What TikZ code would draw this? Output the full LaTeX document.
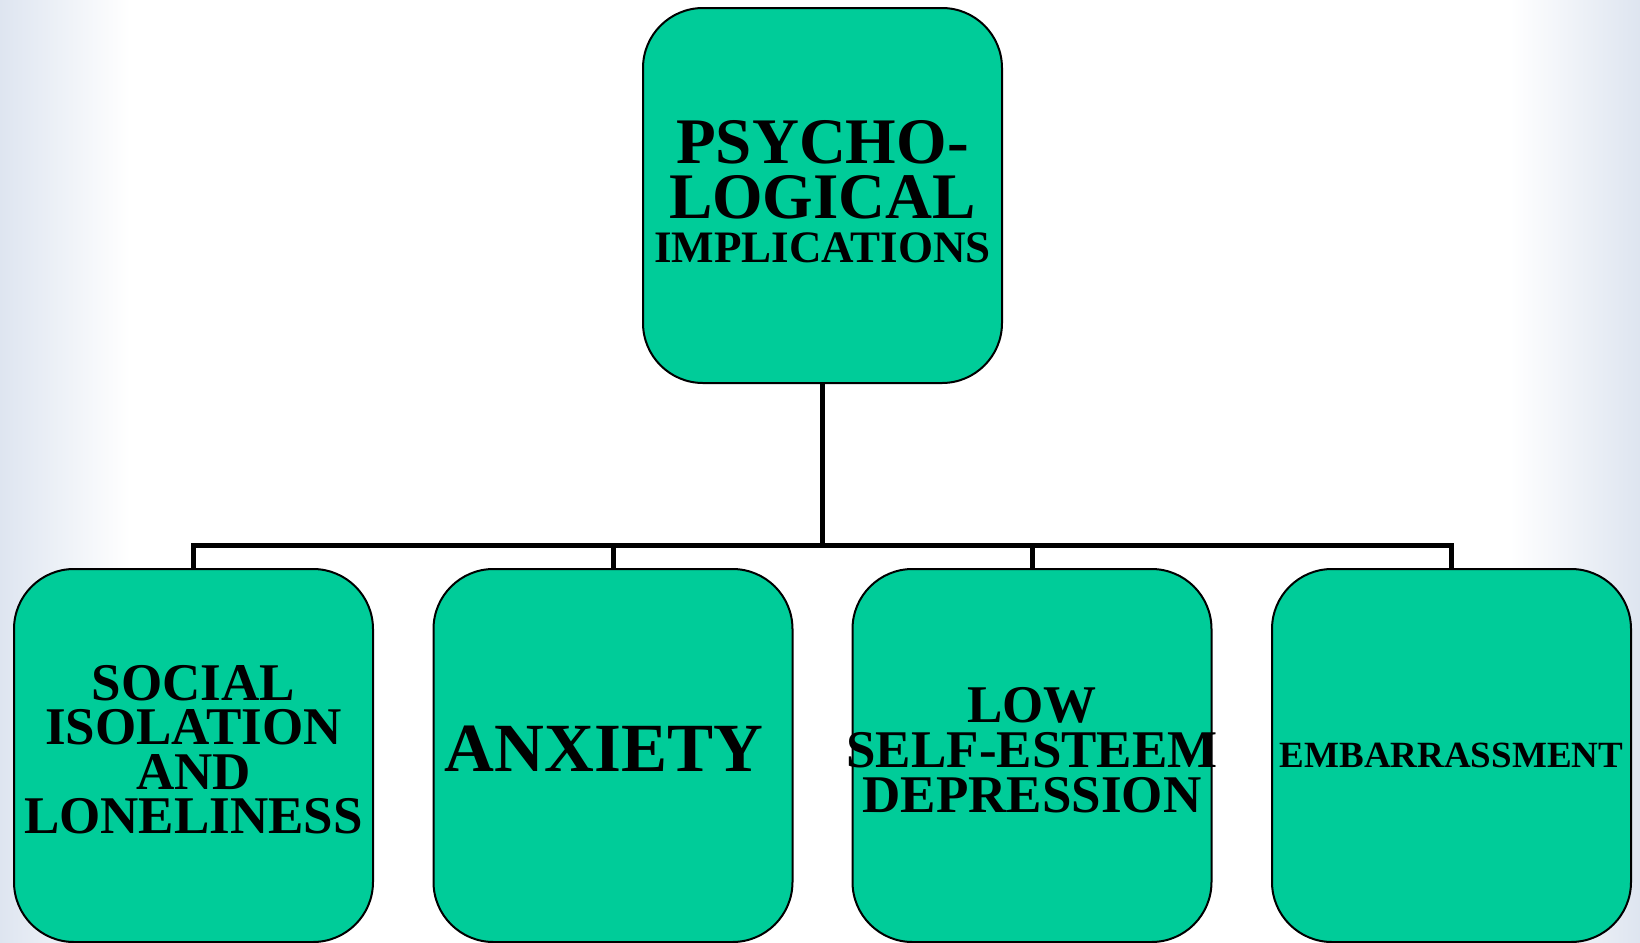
\documentclass[tikz,border=0pt]{standalone}
\usepackage{fontspec}
\setmainfont{Liberation Serif}
\usetikzlibrary{calc,positioning}
\definecolor{boxgreen}{RGB}{0,204,153}
\definecolor{edgeblue}{RGB}{222,229,240}
\tikzset{
  box/.style={draw=black,line width=1pt,fill=boxgreen,rounded corners=30pt,
    minimum width=179.5pt,minimum height=186.5pt,inner sep=0pt,align=center},
  link/.style={line width=2.5pt},
}
\begin{document}
\begin{tikzpicture}[x=0.5pt,y=-0.5pt]
\useasboundingbox (0,0) rectangle (1640,943);
\fill[white] (0,0) rectangle (1640,943);
\shade[left color=edgeblue,right color=white] (0,0) rectangle (130,943);
\shade[left color=white,right color=edgeblue] (1510,0) rectangle (1640,943);
\node[box,minimum height=187.5pt,text depth=4pt,font=\bfseries\fontsize{32.5}{27.5}\selectfont] (top) at (822.5,195.5)
  {PSYCHO-\\LOGICAL\\[-5.5pt]{\fontsize{22.5}{22}\selectfont IMPLICATIONS}};
\node[box,text depth=6pt,font=\bfseries\fontsize{26.5}{22.2}\selectfont] (social) at (193.5,755.5) {SOCIAL\\ISOLATION\\AND\\LONELINESS};
\node[box,text depth=7pt,font=\bfseries\fontsize{34.5}{40}\selectfont] (anxiety) at (613,755.5) {ANXIETY\kern9pt};
\node[box,text depth=6pt,font=\bfseries\fontsize{26.5}{22.5}\selectfont] (esteem) at (1032,755.5) {LOW\\\makebox[0pt]{SELF-ESTEEM}\\DEPRESSION};
\node[box,font=\bfseries\fontsize{18.5}{22}\selectfont] (embar) at (1451.5,755.5) {EMBARRASSMENT};
\coordinate (bar) at (822.5,545);
\foreach \c in {social,anxiety,esteem,embar}
  \draw[link] (top.south) -- (top.south|-bar) -| (\c.north);
\end{tikzpicture}
\end{document}
